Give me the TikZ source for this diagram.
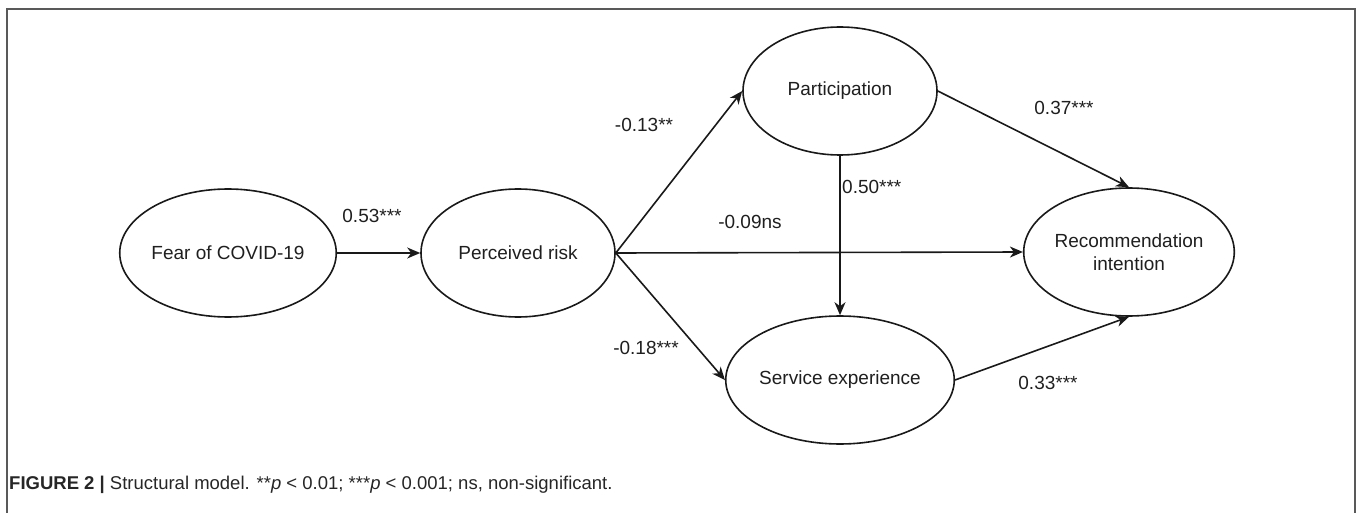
\documentclass[tikz,border=0pt]{standalone}
\usepackage{fontspec}
\setmainfont{Liberation Sans}
\usetikzlibrary{shapes.geometric,arrows.meta}
\begin{document}
\begin{tikzpicture}[x=1pt,y=-1pt,
  latent/.style={ellipse,draw=black!90,line width=1.6pt,minimum width=194pt,minimum height=128pt,inner sep=0pt,font=\fontsize{19}{22.5}\selectfont,align=center,text=black!88},
  pathline/.style={draw=black!90,line width=1.6pt,-{Stealth[length=13pt,width=11pt,inset=4pt]}},
  coef/.style={font=\fontsize{19}{22}\selectfont,inner sep=0pt,text=black!88},
  framebar/.style={line width=2.2pt,draw=black!65}]
\useasboundingbox (0,0) rectangle (1357,513);
\draw[framebar] (7,513) -- (7,9) -- (1355,9) -- (1355,513);
\node[latent] (fear) at (228,253) {Fear of COVID-19};
\node[latent] (risk) at (518,253) {Perceived risk};
\node[latent] (part) at (840,91) {Participation};
\node[latent] (serv) at (840,380) {Service experience};
\node[latent] (rec) at (1129,252) {Recommendation\\intention};
\draw[pathline] (fear) -- (risk);
\draw[pathline] (risk.east) -- (part.west);
\draw[pathline] (risk.east) -- (serv.west);
\draw[pathline] (risk.east) -- (rec.west);
\draw[pathline] (part.south) -- (serv.north);
\draw[pathline] (part.east) -- (rec.north);
\draw[pathline] (serv.east) -- (rec.south);
\node[coef] (c1) at (372,216) {0.53***};
\node[coef] (c2) at (644,125) {-0.13**};
\node[coef] (c3) at (646,348) {-0.18***};
\node[coef] (c4) at (750,222) {-0.09ns};
\node[coef,anchor=west] (c5) at (842,187) {0.50***};
\node[coef] (c6) at (1064,108) {0.37***};
\node[coef] (c7) at (1048,383) {0.33***};
\node[anchor=west,inner sep=0pt,font=\fontsize{18.5}{21}\selectfont,text=black!85] (cap) at (9,485)
  {\textbf{FIGURE 2 |} Structural model. **\textit{p} < 0.01; ***\textit{p} < 0.001; ns, non-significant.};
\end{tikzpicture}
\end{document}
